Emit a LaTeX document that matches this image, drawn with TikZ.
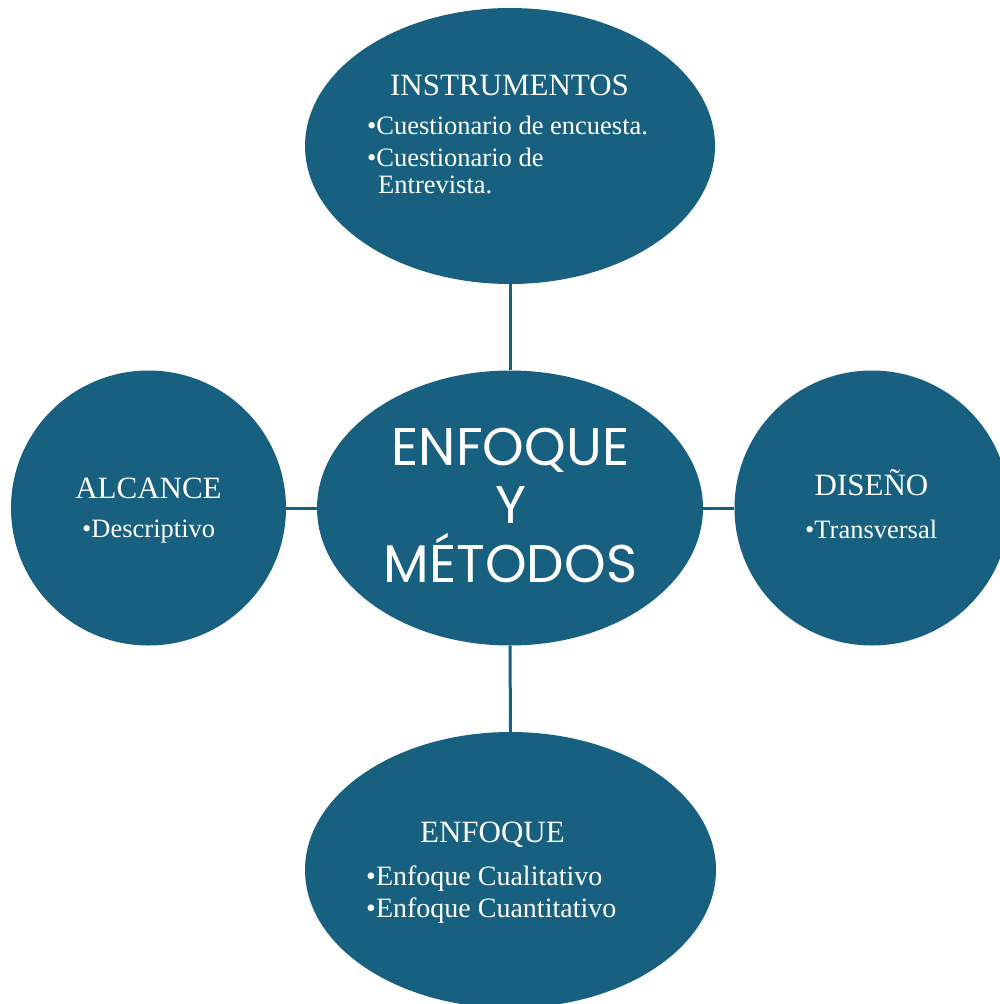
\documentclass[tikz,border=0pt]{standalone}
\usepackage{fontspec}
\setmainfont{Liberation Serif}
\newfontfamily\centerfont{Poppins}
\usetikzlibrary{shapes.geometric}
\definecolor{teal}{RGB}{23,96,128}
\tikzset{
  blob/.style={ellipse, fill=teal, draw=none, inner sep=0pt},
  round/.style={circle, fill=teal, draw=none, inner sep=0pt, minimum size=275pt},
  link/.style={draw=teal, line width=3pt},
  ttl/.style={text=white, inner sep=0pt, anchor=base, font=\fontsize{31}{31}\selectfont},
  itm/.style={text=white, inner sep=0pt, anchor=base west, font=\fontsize{26.5}{26.5}\selectfont},
  itmb/.style={itm, font=\fontsize{28}{28}\selectfont},
  big/.style={text=white, inner sep=0pt, anchor=base, font=\centerfont\fontsize{53}{53}\selectfont}
}
\begin{document}
\begin{tikzpicture}[x=1pt,y=-1pt]
\useasboundingbox (0,0) rectangle (1000,1004);
\clip (0,0) rectangle (1000,1004);
% shapes
\node[blob, minimum width=410pt, minimum height=276pt] (top) at (510,146) {};
\node[blob, minimum width=386pt, minimum height=275pt] (mid) at (510,508) {};
\node[round] (left) at (148.5,508) {};
\node[round] (right) at (872,508) {};
\node[blob, minimum width=411pt, minimum height=276pt] (bot) at (510.5,870) {};
% connectors
\draw[link] (top.south) -- (mid.north);
\draw[link] (mid.south) -- (bot.north);
\draw[link] (left.east) -- (mid.west);
\draw[link] (mid.east) -- (right.west);
% center text
\node[big] (m1) at (510.5,465) {ENFOQUE};
\node[big] (m2) at (510.5,523) {Y};
\node[big] (m3) at (510.5,582) {MÉTODOS};
% top
\node[ttl] (t0) at (509.5,95) {INSTRUMENTOS};
\node[itm] (t1) at (367,134) {•Cuestionario de encuesta.};
\node[itm] (t2) at (367,166) {•Cuestionario de};
\node[itm] (t3) at (378,193) {Entrevista.};
% left
\node[ttl] (l0) at (148.5,498) {ALCANCE};
\node[itm] (l1) at (82,537) {•Descriptivo};
% right
\node[ttl] (r0) at (871.5,495) {DISEÑO};
\node[itm] (r1) at (805,538) {•Transversal};
% bottom
\node[ttl] (b0) at (492.5,842) {ENFOQUE};
\node[itmb] (b1) at (366,885) {•Enfoque Cualitativo};
\node[itmb] (b2) at (366,917) {•Enfoque Cuantitativo};
\end{tikzpicture}
\end{document}
